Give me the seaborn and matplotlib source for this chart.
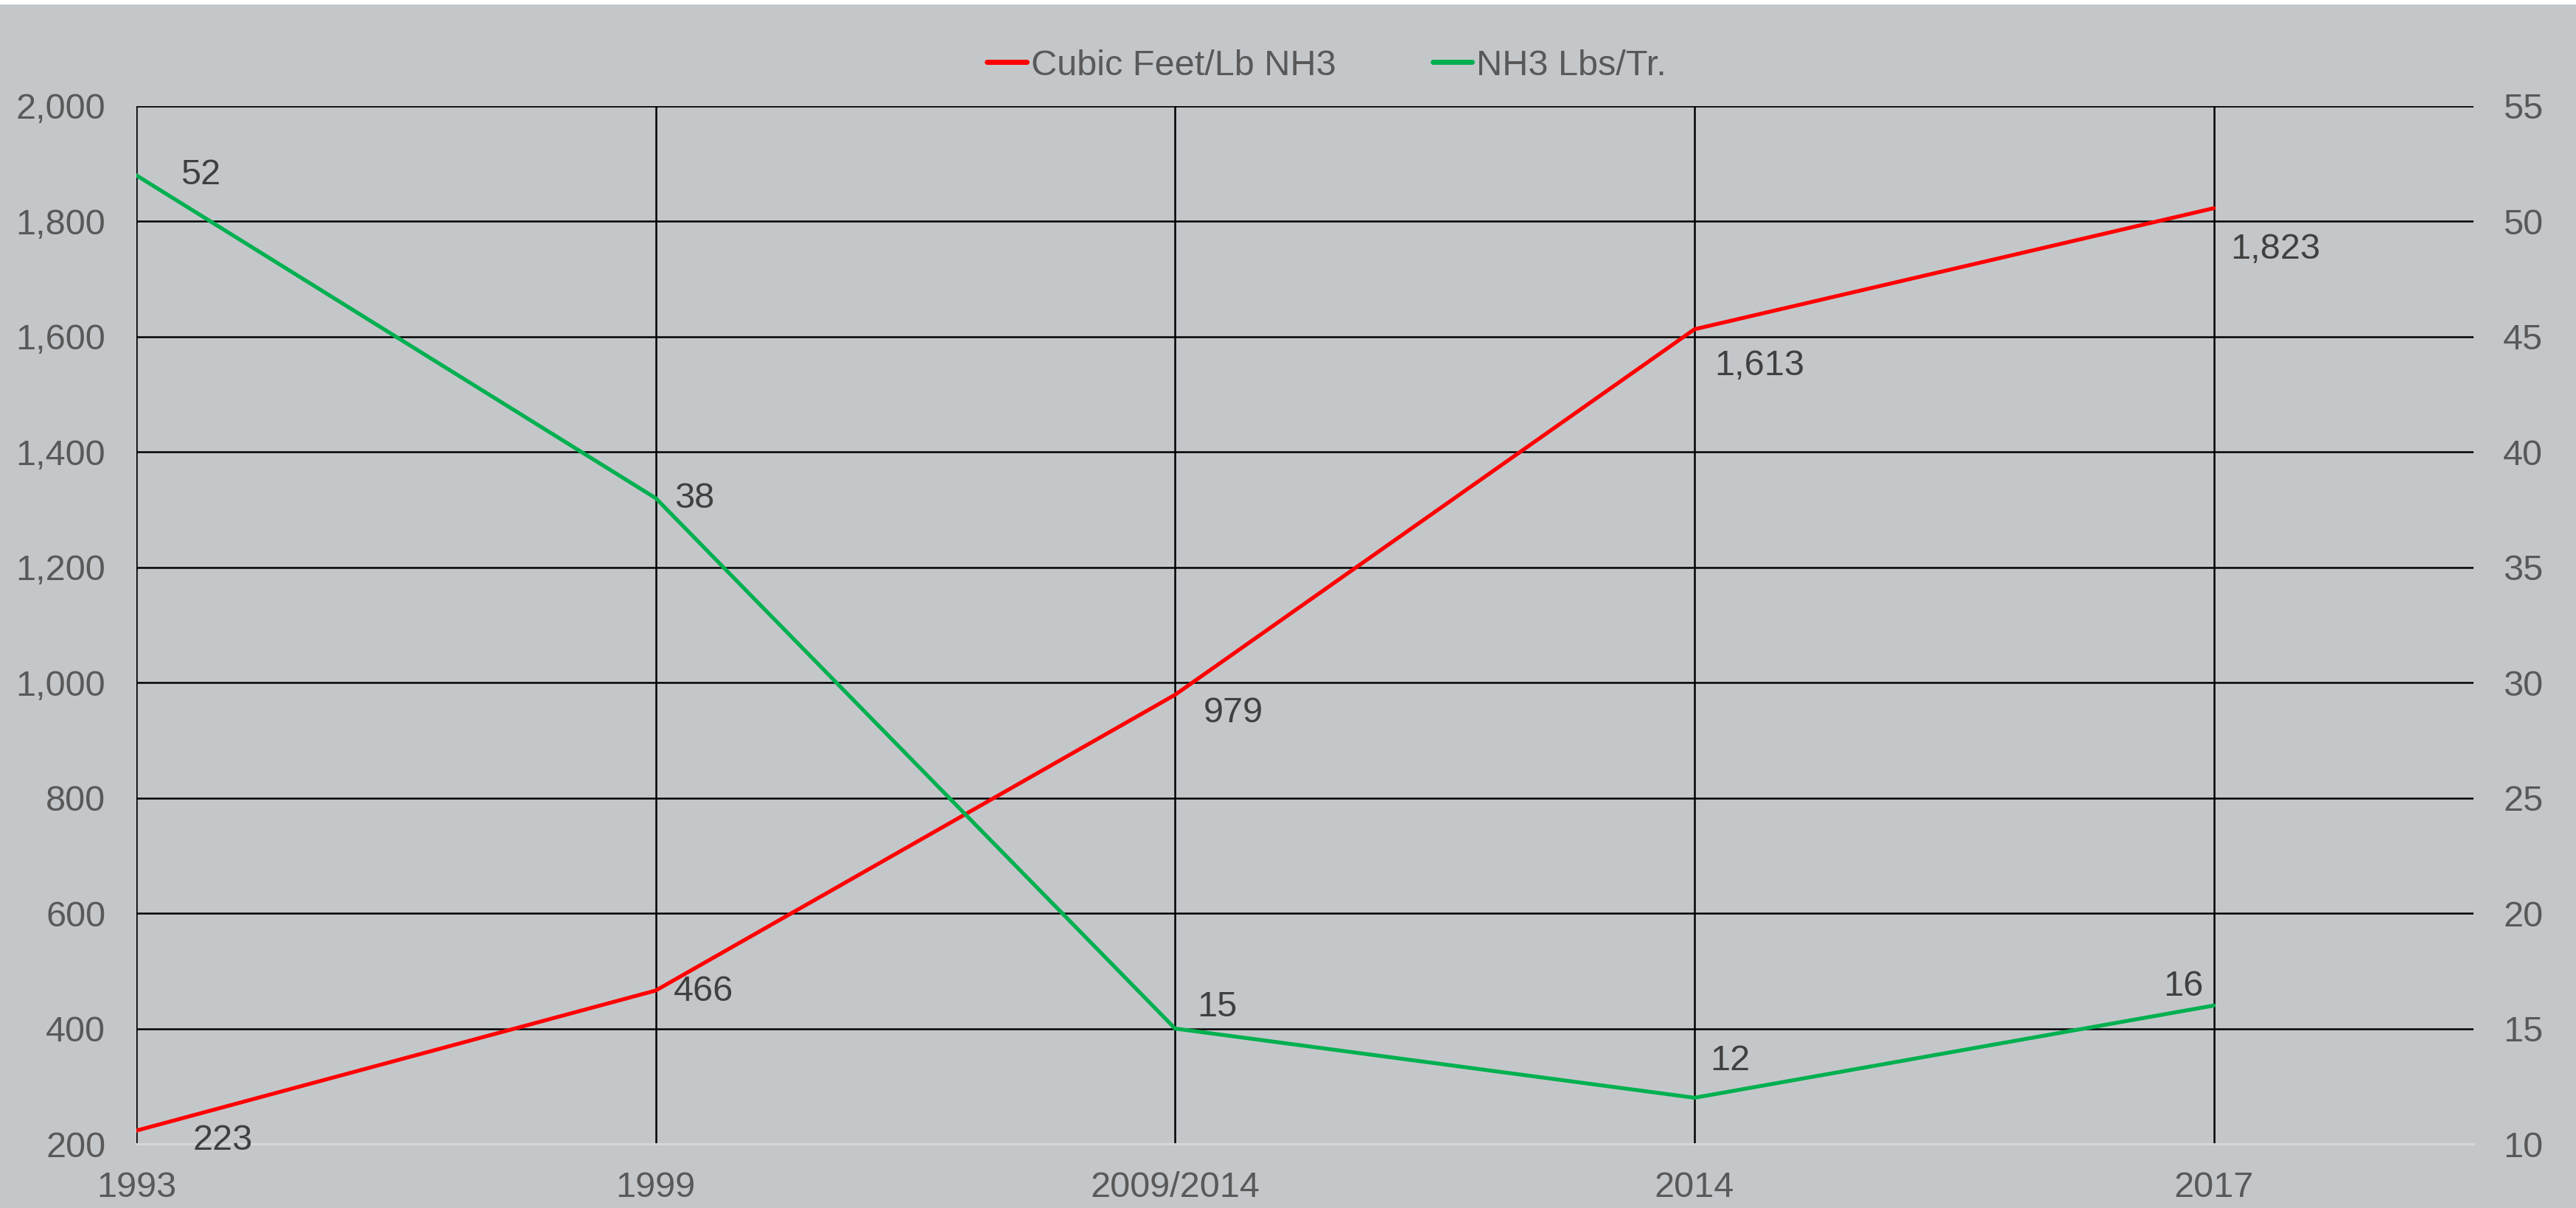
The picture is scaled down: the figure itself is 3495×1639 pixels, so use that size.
import matplotlib
matplotlib.use('Agg')
import matplotlib.pyplot as plt
import seaborn as sns
import numpy as np

# data
years = ['1993', '1999', '2009/2014', '2014', '2017']
cubic_feet = [223, 466, 979, 1613, 1823]
nh3_lbs = [52, 38, 15, 12, 16]

# label offsets in pixels (dx, dy)
red_offsets = [(76, -13), (24, -2), (38, -25), (27, -50), (23, -56)]
green_offsets = [(60, 0), (25, -1), (30, 29), (21, 50), (-68, 26)]

bg = '#c4c7ca'
red = '#ff0000'
green = '#00b050'
tick_col = '#595959'
lab_col = '#404040'

sns.set_style('white')
plt.rcParams['font.family'] = ['Liberation Sans', 'DejaVu Sans']

fig = plt.figure(figsize=(34.95, 16.39), dpi=100, facecolor=bg)
ax = fig.add_axes([185/3495, 1 - 1552/1639, (3356-185)/3495, (1552-144)/1639])
ax.set_facecolor(bg)
ax2 = ax.twinx()

idx = np.arange(len(years))

# grid lines drawn by hand so the bottom one stays light
for x in idx:
    ax.axvline(x, color='black', lw=1.8, zorder=1)
for y in range(400, 2001, 200):
    ax.axhline(y, color='black', lw=1.8, zorder=1)

sns.lineplot(x=idx, y=cubic_feet, ax=ax, color=red, lw=3.8, zorder=3, legend=False)
sns.lineplot(x=idx, y=nh3_lbs, ax=ax2, color=green, lw=3.8, zorder=3, legend=False)

ax.set_xlim(0, 4.5)
ax.set_ylim(200, 2000)
ax2.set_ylim(10, 55)
ax.set_yticks(range(200, 2001, 200))
ax.set_yticklabels([f'{v:,}' for v in range(200, 2001, 200)])
ax2.set_yticks(range(10, 56, 5))
ax.set_xticks(idx)
ax.set_xticklabels(years)

for a in (ax, ax2):
    for s in a.spines.values():
        s.set_visible(False)
    a.grid(False)
ax.spines['bottom'].set_visible(True)
ax.spines['bottom'].set_color('#d9d9d9')
ax.spines['bottom'].set_linewidth(2)

ax.tick_params(axis='y', length=0, pad=30, labelsize=35, labelcolor=tick_col)
ax.tick_params(axis='x', length=0, pad=27, labelsize=35, labelcolor=tick_col)
ax2.tick_params(axis='y', length=0, pad=29, labelsize=35, labelcolor=tick_col)
ax.set_xlabel('')
ax.set_ylabel('')
ax2.set_ylabel('')

for i, v in enumerate(cubic_feet):
    ax.annotate(f'{v:,}', (idx[i], v), xytext=red_offsets[i], textcoords='offset pixels',
                ha='left', va='center', fontsize=35, color=lab_col, zorder=5)
for i, v in enumerate(nh3_lbs):
    ax2.annotate(f'{v}', (idx[i], v), xytext=green_offsets[i], textcoords='offset pixels',
                 ha='left', va='center', fontsize=35, color=lab_col, zorder=5)

handles = [plt.Line2D([], [], color=red, lw=5), plt.Line2D([], [], color=green, lw=5)]
leg = fig.legend(handles, ['Cubic Feet/Lb NH3', 'NH3 Lbs/Tr.'], loc='center',
                 bbox_to_anchor=(1800/3495, 1 - 89/1639), ncol=2, frameon=False,
                 fontsize=35, handlelength=1.1, handletextpad=0.12, columnspacing=2.7,
                 labelcolor=tick_col)

# thin white strip along the top edge
fig.patches.append(plt.Rectangle((0, 1 - 5/1639), 1, 5/1639, transform=fig.transFigure,
                                 color='white', zorder=0))

fig.savefig('out.png', dpi=100, facecolor=bg)
